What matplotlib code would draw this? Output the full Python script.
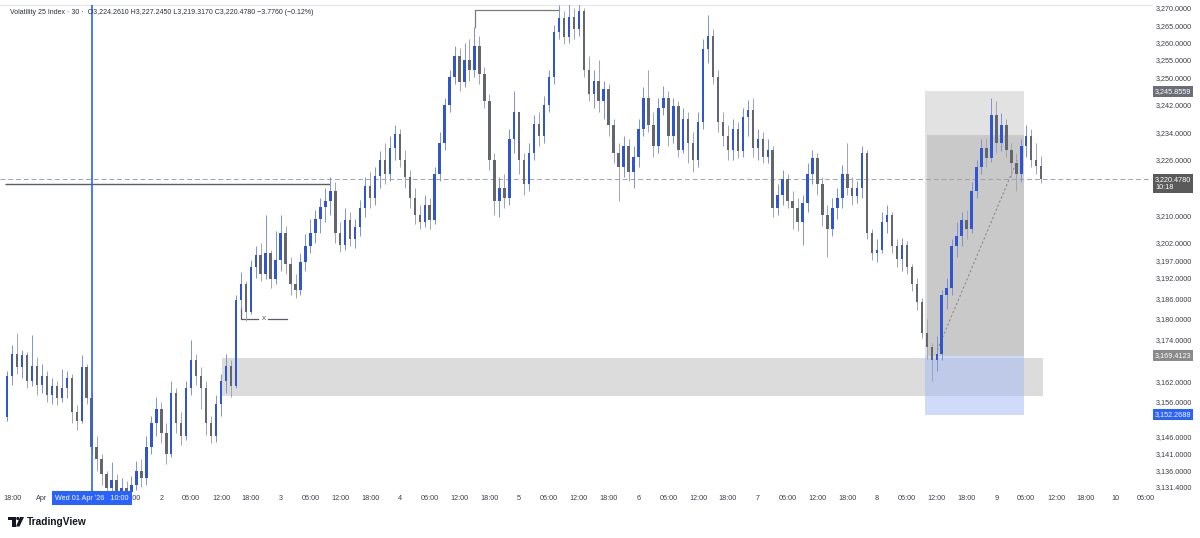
import numpy as np
import matplotlib
matplotlib.use("Agg")
import matplotlib.pyplot as plt
from matplotlib.patches import Rectangle, Polygon, Ellipse

plt.rcParams['font.family'] = ['Liberation Sans', 'DejaVu Sans']

# 1h candles, x = hours from Wed 01 Apr 00:00 (first candle Mar 31 17:00)
hours = np.arange(-7, 202)
first_open = 3151.6

closes = [
    # Mar 31
    3163.5, 3170.0, 3166.0, 3169.5, 3162.0, 3166.5, 3161.0,
    # Apr 1
    3163.5, 3158.0, 3160.5, 3157.0, 3160.0, 3163.0, 3153.0, 3150.5, 3166.0, 3157.0, 3143.0, 3139.5,
    3135.0, 3131.0, 3133.5, 3129.5, 3131.0, 3128.5, 3132.0, 3136.0, 3134.0, 3143.0, 3150.0, 3154.0,
    # Apr 2
    3147.0, 3141.0, 3158.5, 3150.0, 3146.0, 3160.0, 3168.0, 3163.5, 3160.0, 3150.0, 3146.0, 3155.5,
    3162.0, 3166.5, 3160.5, 3185.5, 3190.0, 3182.0, 3195.0, 3198.5, 3193.0, 3199.0, 3191.5, 3197.0,
    # Apr 3
    3205.0, 3196.0, 3190.0, 3188.5, 3196.5, 3201.0, 3205.0, 3209.0, 3212.5, 3214.0, 3217.0, 3205.0,
    3201.5, 3208.5, 3203.0, 3206.5, 3212.0, 3218.5, 3215.0, 3221.5, 3226.0, 3222.0, 3229.5, 3233.5,
    # Apr 4
    3226.0, 3221.0, 3215.0, 3210.0, 3208.0, 3213.0, 3208.5, 3222.0, 3231.0, 3242.0, 3250.0, 3256.0,
    3248.5, 3255.0, 3252.0, 3259.0, 3251.0, 3243.0, 3226.0, 3214.0, 3218.0, 3215.0, 3232.0, 3240.0,
    # Apr 5
    3226.0, 3219.0, 3228.0, 3236.5, 3233.0, 3242.0, 3250.0, 3263.0, 3267.0, 3261.5, 3267.5, 3264.0,
    3269.0, 3252.0, 3245.0, 3249.0, 3243.0, 3246.5, 3236.0, 3228.0, 3224.0, 3230.0, 3222.5, 3227.0,
    # Apr 6
    3235.0, 3244.0, 3236.0, 3230.0, 3241.0, 3244.0, 3233.0, 3241.5, 3229.0, 3238.0, 3231.0, 3226.0,
    3237.0, 3258.0, 3262.0, 3250.0, 3237.0, 3233.0, 3229.0, 3235.0, 3228.5, 3238.5, 3240.5, 3229.5,
    # Apr 7
    3232.0, 3227.0, 3229.0, 3212.0, 3216.0, 3220.5, 3214.0, 3212.0, 3208.0, 3213.5, 3222.0, 3226.5,
    3219.0, 3210.0, 3206.0, 3212.0, 3215.0, 3222.0, 3218.0, 3215.5, 3218.0, 3228.0, 3205.0, 3199.0,
    # Apr 8
    3200.0, 3208.0, 3210.0, 3201.0, 3197.5, 3201.5, 3195.0, 3190.0, 3185.0, 3176.0, 3172.0, 3168.0,
    3170.0, 3187.0, 3189.0, 3201.0, 3204.0, 3208.5, 3206.0, 3217.0, 3224.0, 3229.5, 3226.5, 3239.0,
    # Apr 9
    3231.0, 3236.0, 3229.0, 3225.0, 3222.0, 3230.0, 3233.0, 3226.0, 3224.261, 3220.478,
]

highs = [
    3165.0, 3172.5, 3176.0, 3171.0, 3170.5, 3175.5, 3169.0,
    3167.0, 3165.0, 3163.0, 3162.0, 3165.5, 3165.0, 3164.0, 3155.0, 3169.5, 3167.0, 3159.0, 3146.0,
    3141.0, 3136.0, 3138.5, 3135.0, 3134.0, 3133.0, 3134.5, 3139.0, 3139.5, 3146.0, 3152.0, 3157.5,
    3156.0, 3150.0, 3162.0, 3160.0, 3153.0, 3162.0, 3174.0, 3170.0, 3166.0, 3162.0, 3152.0, 3158.0,
    3164.0, 3170.0, 3168.0, 3187.0, 3193.5, 3191.0, 3197.0, 3201.0, 3202.0, 3210.0, 3200.0, 3205.5,
    3210.0, 3207.0, 3198.0, 3193.0, 3199.0, 3204.5, 3209.0, 3211.5, 3215.0, 3218.0, 3221.0, 3219.5,
    3208.0, 3212.0, 3211.0, 3209.0, 3214.5, 3221.0, 3222.5, 3224.0, 3228.5, 3231.0, 3233.0, 3236.0,
    3235.0, 3229.0, 3223.0, 3218.0, 3213.0, 3216.0, 3215.0, 3224.0, 3234.0, 3244.0, 3252.0, 3259.0,
    3258.5, 3260.0, 3261.0, 3264.5, 3262.0, 3253.0, 3245.0, 3228.0, 3221.0, 3222.0, 3235.0, 3246.0,
    3240.0, 3228.0, 3231.0, 3239.0, 3240.0, 3244.5, 3252.0, 3265.0, 3271.0, 3269.0, 3272.0, 3270.0,
    3273.0, 3270.0, 3256.0, 3252.0, 3255.0, 3249.0, 3248.0, 3238.0, 3231.0, 3233.0, 3232.0, 3230.0,
    3238.0, 3247.0, 3252.0, 3240.0, 3244.0, 3247.5, 3246.0, 3244.0, 3243.0, 3241.0, 3240.0, 3234.0,
    3240.0, 3261.0, 3268.0, 3264.0, 3252.0, 3240.0, 3236.0, 3238.0, 3237.0, 3241.0, 3243.5, 3244.0,
    3235.0, 3234.0, 3232.0, 3230.0, 3219.0, 3223.0, 3222.0, 3217.0, 3215.0, 3216.0, 3225.0, 3229.0,
    3228.0, 3221.0, 3213.0, 3215.0, 3218.0, 3224.5, 3231.0, 3221.0, 3220.0, 3230.0, 3229.0, 3206.0,
    3203.0, 3211.0, 3213.0, 3211.0, 3203.0, 3203.5, 3202.5, 3196.0, 3192.0, 3186.0, 3180.0, 3173.0,
    3175.0, 3188.5, 3192.0, 3203.0, 3208.0, 3211.0, 3211.5, 3219.5, 3226.0, 3232.0, 3232.5, 3244.0,
    3243.0, 3239.5, 3238.0, 3231.0, 3228.0, 3232.0, 3236.0, 3235.0, 3231.0, 3227.245,
]

lows = [
    3150.5, 3161.0, 3164.0, 3163.0, 3160.0, 3160.5, 3158.0,
    3158.5, 3156.0, 3155.5, 3155.0, 3156.0, 3157.0, 3150.0, 3148.0, 3150.0, 3155.5, 3141.0, 3136.0,
    3132.0, 3129.0, 3129.5, 3127.5, 3128.0, 3127.0, 3128.0, 3130.5, 3131.5, 3132.0, 3141.0, 3146.0,
    3144.0, 3138.0, 3140.0, 3147.0, 3143.5, 3145.0, 3158.0, 3161.0, 3154.0, 3146.5, 3144.0, 3144.5,
    3152.0, 3158.5, 3157.5, 3160.0, 3183.0, 3179.5, 3181.5, 3192.0, 3191.0, 3191.5, 3189.0, 3190.0,
    3194.0, 3193.0, 3187.0, 3186.0, 3187.0, 3194.0, 3199.0, 3202.0, 3205.0, 3208.0, 3210.0, 3202.0,
    3199.5, 3200.0, 3201.0, 3200.5, 3204.0, 3209.5, 3212.0, 3213.0, 3218.0, 3219.0, 3220.0, 3226.0,
    3224.0, 3218.0, 3212.0, 3207.5, 3206.0, 3206.5, 3206.0, 3207.5, 3220.0, 3229.0, 3240.0, 3248.0,
    3246.0, 3247.0, 3249.0, 3250.0, 3248.0, 3241.0, 3223.0, 3210.0, 3209.5, 3212.0, 3213.0, 3228.0,
    3222.0, 3216.0, 3217.0, 3226.0, 3230.0, 3231.0, 3240.0, 3248.0, 3261.0, 3259.5, 3260.0, 3261.0,
    3262.0, 3250.0, 3243.0, 3241.0, 3240.0, 3238.0, 3233.0, 3225.0, 3214.0, 3221.0, 3220.0, 3218.0,
    3224.0, 3233.0, 3234.0, 3227.0, 3228.0, 3239.0, 3230.0, 3231.0, 3227.0, 3228.0, 3225.0, 3222.5,
    3224.0, 3235.0, 3254.0, 3248.0, 3234.0, 3230.0, 3226.0, 3226.0, 3226.5, 3227.0, 3233.0, 3227.0,
    3226.0, 3225.0, 3225.0, 3209.5, 3210.0, 3213.0, 3212.0, 3206.0, 3205.5, 3201.5, 3211.0, 3219.0,
    3216.0, 3207.0, 3198.0, 3204.0, 3209.0, 3212.0, 3216.0, 3213.0, 3213.5, 3215.0, 3203.0, 3197.0,
    3196.5, 3199.0, 3205.0, 3199.0, 3195.0, 3194.0, 3193.0, 3188.0, 3182.5, 3174.5, 3168.5, 3162.0,
    3165.0, 3168.0, 3183.0, 3187.0, 3198.0, 3201.0, 3203.0, 3205.0, 3215.0, 3222.0, 3224.0, 3225.5,
    3228.0, 3228.5, 3227.0, 3221.0, 3217.0, 3219.5, 3227.0, 3224.0, 3222.0, 3219.317,
]

price_ticks = [3270, 3265, 3260, 3255, 3250, 3242, 3234, 3226, 3210, 3202, 3197,
               3192, 3186, 3180, 3174, 3162, 3156, 3146, 3141, 3136, 3131.4]

# Apr 1 06:00 / 12:00 sit under the crosshair date label, so they are left out
time_ticks = [-6, 0, 18, 24, 30, 36, 42, 48, 54, 60, 66, 72, 78, 84, 90, 96, 102,
              108, 114, 120, 126, 132, 138, 144, 150, 156, 162, 168, 174, 180, 186, 192,
              198, 204, 210, 216, 222]
time_labels = ['18:00', 'Apr', '18:00', '2', '06:00', '12:00', '18:00',
               '3', '06:00', '12:00', '18:00', '4', '06:00', '12:00', '18:00', '5', '06:00',
               '12:00', '18:00', '6', '06:00', '12:00', '18:00', '7', '06:00', '12:00', '18:00',
               '8', '06:00', '12:00', '18:00', '9', '06:00', '12:00', '18:00', '10', '06:00']

last_price = 3220.478
entry, target, stop = 3169.4123, 3245.8559, 3152.2688

fig = plt.figure(figsize=(12, 5.38), dpi=100)
ax = fig.add_axes([0, 46 / 538, 1152 / 1200, 487 / 538])
ax.set_xlim(-8.45, 223.3)
ax.set_ylim(3129.92, 3270.87)

# demand zone
ax.add_patch(Rectangle((36.2, 3157.7), 201.4 - 36.2, 3168.7 - 3157.7,
                       facecolor='#dcdcdc', edgecolor='none', zorder=1))
# long position tool
ax.add_patch(Rectangle((177.7, entry), 19.9, target - entry,
                       facecolor='#e2e2e2', edgecolor='none', zorder=1.2))
ax.add_patch(Rectangle((178.1, entry), 19.5, 3233.2 - entry,
                       facecolor='#c9c9c9', edgecolor='none', zorder=1.3))
ax.add_patch(Rectangle((177.7, stop), 19.9, entry - stop,
                       facecolor='#a1b9f5', alpha=0.5, edgecolor='none', zorder=1.4))
ax.plot([180.1, 196.2], [3171.0, 3226.0], ls=(0, (2, 2)), color='#8a8a8a', lw=0.8, zorder=2)

# lines
ax.axhline(last_price, color='#a0a3ab', lw=0.7, ls=(0, (5, 3)), zorder=1.5)
ax.hlines(3219.1, -7.5, 58.0, color='#5a5d66', lw=1.0, zorder=2)
ax.plot([87.1, 87.1, 104.0], [3264.5, 3269.4, 3269.4], color='#7a7a7a', lw=0.9, zorder=2)
ax.plot([40.0, 40.0, 43.5], [3183.5, 3180.0, 3180.0], color='#5a5d66', lw=0.9, zorder=2)
ax.plot([45.5, 49.3], [3180.0, 3180.0], color='#5a5d66', lw=0.9, zorder=2)
ax.text(44.6, 3180.0, 'x', fontsize=6, color='#5a5d66', ha='center', va='center')
ax.axvline(10, color='#2962ff', lw=1.2, zorder=5)

# candles
o = np.array([first_open] + closes[:-1])
c = np.array(closes)
hi = np.array(highs)
lo = np.array(lows)
up = c >= o
body_col = np.where(up, '#2f56cf', '#63666f')
wick_col = np.where(up, '#7f92d6', '#a2a5ad')
ax.vlines(hours, lo, hi, colors=wick_col, lw=0.7, zorder=3)
ax.bar(hours, np.maximum(np.abs(c - o), 0.3), bottom=np.minimum(o, c), width=0.5,
       color=body_col, linewidth=0, zorder=4)

# axes styling
for s in ['left', 'right', 'bottom']:
    ax.spines[s].set_visible(False)
ax.spines['top'].set_color('#e6e6e6')
ax.yaxis.tick_right()
ax.set_yticks(price_ticks)
ax.set_yticklabels([f"{v:,.4f}" for v in price_ticks])
ax.set_xticks(time_ticks)
ax.set_xticklabels(time_labels)
ax.tick_params(axis='y', length=0, pad=2.5, labelsize=5.2, labelcolor='#3b3e46')
ax.tick_params(axis='x', length=0, pad=2.0, labelsize=5.2, labelcolor='#3b3e46')

# price scale labels
ytr = ax.get_yaxis_transform()
def price_tag(v, txt, fc):
    ax.text(1.0 + 3 / 1152, v, txt, transform=ytr, fontsize=5.2, color='white', ha='left',
            va='center', clip_on=False, zorder=10, linespacing=1.2,
            bbox=dict(boxstyle='square,pad=0.25', fc=fc, ec='none'))

price_tag(target, f"{target:,.4f}", '#6b6e78')
price_tag(last_price - 1.2, f"{last_price:,.4f}\n10:18", '#5a5a5a')
price_tag(entry, f"{entry:,.4f}", '#8a8a8a')
price_tag(stop, f"{stop:,.4f}", '#2962ff')

# crosshair date label
ax.text(10, -0.0125, "Wed 01 Apr '26   10:00", transform=ax.get_xaxis_transform(),
        fontsize=5.2, color='white', ha='center', va='center', clip_on=False, zorder=10,
        bbox=dict(boxstyle='square,pad=0.45', fc='#2962ff', ec='none'))

# header
fig.text(10 / 1200, 1 - 13 / 538,
         "Volatility 25 Index \u00b7 30 \u00b7  O3,224.2610 H3,227.2450 L3,219.3170 "
         "C3,220.4780 \u22123.7760 (\u22120.12%)",
         fontsize=5.0, color='#2a2e39', ha='left', va='center')

# TradingView logo
def P(x, y):
    return (x / 1200, 1 - y / 538)

fig.patches.append(Polygon([P(8, 517), P(15.5, 517), P(15.5, 526.5), P(12, 526.5), P(12, 520),
                            P(8, 520)], closed=True, transform=fig.transFigure,
                           fc='#131722', ec='none'))
fig.patches.append(Ellipse(P(17.8, 518.5), 3.2 / 1200, 3.2 / 538, transform=fig.transFigure,
                           fc='#131722', ec='none'))
fig.patches.append(Polygon([P(20, 517), P(24, 517), P(19.5, 526.5), P(16, 526.5)],
                           closed=True, transform=fig.transFigure, fc='#131722', ec='none'))
fig.text(27 / 1200, 1 - 522 / 538, "TradingView", fontsize=7.3, fontweight='bold',
         color='#131722', ha='left', va='center')

fig.savefig('out.png', dpi=100)
